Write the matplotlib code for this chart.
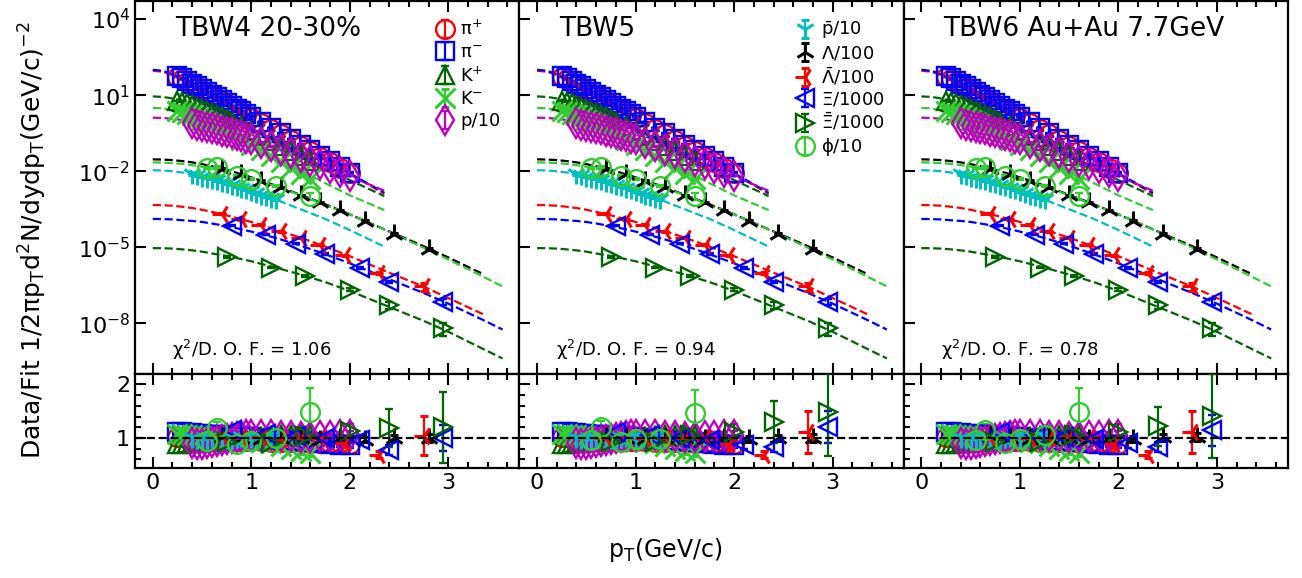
import numpy as np
import matplotlib
matplotlib.use('Agg')
import matplotlib.pyplot as plt
from matplotlib.ticker import FixedLocator, MultipleLocator, NullLocator, LogFormatterSciNotation

plt.rcParams['font.family'] = ['DejaVu Sans']
plt.rcParams['mathtext.default'] = 'regular'

# ---------------- data ----------------
panel_titles = ['TBW4 20-30%', 'TBW5', 'TBW6 Au+Au 7.7GeV']
chi2_values = ['1.06', '0.94', '0.78']

# fit curves sampled on a common pT grid (nan = curve not drawn there)
fit_pt = [0.0, 0.1, 0.2, 0.3, 0.4, 0.5, 0.6, 0.8, 1.0, 1.25, 1.5, 1.75, 2.0, 2.35, 2.75, 3.0, 3.35, 3.55]
nan = float('nan')
fit_pip = [92, 83.9, 62.2, 39.3, 24.2, 14.9, 8.99, 3.27, 1.21, 0.342, 0.0966, 0.0271, 0.00765, 0.0013, nan, nan, nan, nan]
fit_pim = [100, 91.2, 67.6, 42.7, 26.3, 16.2, 9.77, 3.55, 1.32, 0.372, 0.105, 0.0295, 0.00832, 0.00141, nan, nan, nan, nan]
fit_kp = [8.91, 8.51, 7.41, 6.03, 4.47, 3.16, 2.14, 0.933, 0.389, 0.126, 0.0407, 0.0135, 0.00447, 0.00105, nan, nan, nan, nan]
fit_km = [3.16, 3.02, 2.57, 2.04, 1.51, 1.05, 0.708, 0.288, 0.115, 0.0355, 0.0107, 3.39e-3, 1.12e-3, 2.95e-4, nan, nan, nan, nan]
fit_p = [1.29, 1.26, 1.17, 1.05, 0.871, 0.708, 0.55, 0.316, 0.174, 0.0794, 0.0355, 0.0155, 6.31e-3, 1.7e-3, nan, nan, nan, nan]
fit_pbar = [1.1e-2, 1.07e-2, 1.0e-2, 8.91e-3, 7.59e-3, 6.31e-3, 5.01e-3, 2.95e-3, 1.66e-3, 7.59e-4, 3.16e-4, 1.32e-4, 4.79e-5, 1.07e-5, nan, nan, nan, nan]
fit_lam = [2.95e-2, 2.88e-2, 2.75e-2, 2.51e-2, 2.24e-2, 1.91e-2, 1.58e-2, 1.0e-2, 5.75e-3, 2.69e-3, 1.17e-3, 5.01e-4, 2.0e-4, 5.13e-5, 1.1e-5, 3.98e-6, 8.91e-7, nan]
fit_alam = [4.68e-4, 4.57e-4, 4.37e-4, 3.98e-4, 3.55e-4, 3.02e-4, 2.51e-4, 1.62e-4, 1.0e-4, 5.01e-5, 2.4e-5, 1.07e-5, 4.47e-6, 1.2e-6, 2.82e-7, 1.0e-7, 2.34e-8, nan]
fit_xi = [1.32e-4, 1.3e-4, 1.26e-4, 1.17e-4, 1.1e-4, 1.0e-4, 8.71e-5, 6.31e-5, 4.17e-5, 2.34e-5, 1.17e-5, 5.37e-6, 2.34e-6, 6.61e-7, 1.58e-7, 6.03e-8, 1.38e-8, 5.75e-9]
fit_axi = [9.33e-6, 9.23e-6, 8.91e-6, 8.32e-6, 7.59e-6, 6.76e-6, 5.75e-6, 4.17e-6, 2.82e-6, 1.58e-6, 8.51e-7, 4.27e-7, 1.91e-7, 5.37e-8, 1.26e-8, 4.68e-9, 1.0e-9, 4.17e-10]
fit_phi = [2.24e-2, 2.19e-2, 2.09e-2, 1.95e-2, 1.74e-2, 1.51e-2, 1.26e-2, 8.32e-3, 5.01e-3, 2.51e-3, 1.12e-3, 4.68e-4, 2.0e-4, 5.01e-5, 9.55e-6, 3.31e-6, 7.08e-7, 2.88e-7]

# pions
pi_pt = [0.25, 0.30, 0.35, 0.40, 0.45, 0.50, 0.55, 0.60, 0.65, 0.70, 0.75, 0.80, 0.85, 0.90, 0.95, 1.00,
         1.10, 1.20, 1.30, 1.40, 1.50, 1.60, 1.70, 1.80, 1.90, 2.00]
pip_val = [52, 42, 33, 26, 20, 16, 12.4, 9.7, 7.5, 5.8, 4.5, 3.5, 2.7, 2.1, 1.65, 1.3,
           0.78, 0.47, 0.285, 0.171, 0.103, 0.0625, 0.0377, 0.0225, 0.0136, 0.0082]
pim_val = [57, 46, 36, 28, 22, 17.4, 13.5, 10.5, 8.1, 6.3, 4.9, 3.8, 2.95, 2.3, 1.8, 1.41,
           0.85, 0.51, 0.31, 0.186, 0.112, 0.068, 0.041, 0.0245, 0.0148, 0.0089]
pi_err = [0.02, 0.02, 0.02, 0.02, 0.02, 0.02, 0.02, 0.02, 0.02, 0.02, 0.02, 0.02, 0.02, 0.02, 0.02, 0.02,
          0.02, 0.02, 0.03, 0.03, 0.03, 0.04, 0.04, 0.05, 0.05, 0.06]
pip_ratio = [1.02, 1.01, 1.0, 1.0, 0.99, 0.99, 0.98, 0.98, 0.97, 0.97, 0.96, 0.96, 0.95, 0.95, 0.95, 0.94,
             0.94, 0.93, 0.93, 0.92, 0.92, 0.91, 0.91, 0.9, 0.9, 0.89]
pim_ratio = [1.12, 1.11, 1.10, 1.09, 1.08, 1.07, 1.06, 1.06, 1.05, 1.05, 1.04, 1.04, 1.03, 1.03, 1.02, 1.02,
             1.0, 0.99, 0.97, 0.96, 0.94, 0.92, 0.9, 0.88, 0.87, 0.86]

# kaons
k_pt = [0.25, 0.30, 0.35, 0.40, 0.45, 0.50, 0.55, 0.60, 0.65, 0.70, 0.75, 0.80, 0.90, 1.00,
        1.10, 1.20, 1.30, 1.40, 1.50, 1.60]
kp_val = [5.9, 5.3, 4.7, 4.0, 3.4, 2.9, 2.4, 2.0, 1.63, 1.34, 1.10, 0.90, 0.59, 0.389,
          0.248, 0.158, 0.100, 0.064, 0.0407, 0.0262]
km_val = [2.47, 2.2, 1.86, 1.59, 1.31, 1.08, 0.88, 0.708, 0.566, 0.447, 0.354, 0.280, 0.173, 0.109,
          0.0668, 0.0404, 0.0237, 0.0138, 0.0080, 0.00487]
k_err = [0.03, 0.03, 0.03, 0.03, 0.03, 0.03, 0.03, 0.03, 0.03, 0.03, 0.03, 0.03, 0.04, 0.04,
         0.04, 0.05, 0.05, 0.06, 0.06, 0.07]
kp_ratio = [0.88, 0.88, 0.9, 0.9, 0.9, 0.92, 0.92, 0.93, 0.94, 0.95, 0.96, 0.97, 0.98, 1.0,
            1.02, 1.04, 1.05, 1.06, 1.06, 1.05]
km_ratio = [1.08, 1.08, 1.06, 1.05, 1.04, 1.03, 1.02, 1.0, 1.0, 0.99, 0.98, 0.97, 0.95, 0.95,
            0.93, 0.9, 0.85, 0.8, 0.75, 0.72]

# protons
p_pt = [0.40, 0.45, 0.50, 0.55, 0.60, 0.65, 0.70, 0.75, 0.80, 0.85, 0.90, 0.95, 1.00,
        1.10, 1.20, 1.30, 1.40, 1.50, 1.60, 1.70, 1.80, 1.90, 2.00]
p_val = [0.78, 0.69, 0.62, 0.56, 0.505, 0.45, 0.40, 0.356, 0.316, 0.278, 0.244, 0.212, 0.184,
         0.135, 0.0975, 0.0703, 0.0505, 0.0362, 0.026, 0.0188, 0.0135, 0.00948, 0.00669]
p_err = [0.03, 0.03, 0.03, 0.03, 0.03, 0.03, 0.03, 0.03, 0.03, 0.03, 0.03, 0.03, 0.03,
         0.04, 0.04, 0.04, 0.04, 0.05, 0.05, 0.05, 0.06, 0.06, 0.07]
p_ratio = [0.9, 0.88, 0.88, 0.9, 0.92, 0.94, 0.96, 0.98, 1.0, 1.02, 1.04, 1.05, 1.06,
           1.06, 1.05, 1.04, 1.03, 1.02, 1.02, 1.03, 1.04, 1.05, 1.06]

pbar_pt = [0.40, 0.45, 0.50, 0.55, 0.60, 0.65, 0.70, 0.75, 0.80, 0.85, 0.90, 0.95, 1.00,
           1.05, 1.10, 1.15, 1.20, 1.25]
pbar_val = [7.6e-3, 6.8e-3, 6.1e-3, 5.5e-3, 5.0e-3, 4.4e-3, 3.85e-3, 3.34e-3, 2.9e-3, 2.56e-3,
            2.25e-3, 1.94e-3, 1.66e-3, 1.41e-3, 1.21e-3, 1.06e-3, 9.1e-4, 7.7e-4]
pbar_err = [0.04, 0.04, 0.04, 0.04, 0.04, 0.04, 0.04, 0.04, 0.05, 0.05, 0.05, 0.05, 0.05,
            0.06, 0.06, 0.06, 0.07, 0.07]
pbar_ratio = [1.0, 0.98, 0.97, 0.98, 1.0, 1.01, 1.0, 0.99, 0.98, 1.0, 1.02, 1.01, 1.0,
              0.99, 1.0, 1.02, 1.03, 1.02]

# strange hadrons
lam_pt = [0.7, 0.9, 1.1, 1.3, 1.5, 1.7, 1.9, 2.15, 2.45, 2.8]
lam_val = [1.26e-2, 7.6e-3, 4.25e-3, 2.29e-3, 1.17e-3, 5.9e-4, 2.88e-4, 1.12e-4, 3.47e-5, 8.9e-6]
lam_err = [0.03, 0.03, 0.03, 0.03, 0.03, 0.04, 0.04, 0.05, 0.06, 0.08]
lam_ratio_tbw4 = [1.02, 1.0, 0.98, 1.0, 1.0, 0.97, 1.0, 0.97, 1.0, 1.0]
lam_ratio_tbw5 = [1.02, 1.0, 0.99, 1.0, 1.0, 0.98, 1.0, 0.98, 1.0, 1.0]
lam_ratio_tbw6 = [1.03, 1.0, 0.99, 1.0, 1.0, 0.98, 1.0, 0.98, 1.01, 1.02]

alam_pt = [0.7, 0.9, 1.1, 1.3, 1.5, 1.7, 1.95, 2.3, 2.75]
alam_val = [2.12e-4, 1.27e-4, 7.7e-5, 4.24e-5, 2.4e-5, 1.26e-5, 4.8e-6, 1.0e-6, 2.9e-7]
alam_err = [0.04, 0.04, 0.04, 0.05, 0.05, 0.06, 0.08, 0.1, 0.35]
alam_ratio_tbw4 = [1.05, 1.0, 1.02, 0.98, 1.0, 1.0, 0.9, 0.69, 1.04]
alam_ratio_tbw5 = [1.0, 1.02, 1.0, 1.0, 1.0, 1.0, 0.88, 0.69, 1.12]
alam_ratio_tbw6 = [1.0, 1.0, 1.0, 1.0, 1.02, 1.0, 0.88, 0.69, 1.12]

xi_pt = [0.8, 1.15, 1.45, 1.75, 2.1, 2.4, 2.95]
xi_val = [7.2e-5, 3.16e-5, 1.39e-5, 5.37e-6, 1.58e-6, 4.3e-7, 7.3e-8]
xi_err = [0.05, 0.05, 0.06, 0.07, 0.09, 0.12, 0.25]
xi_ratio_tbw4 = [1.15, 1.07, 1.03, 1.0, 0.97, 0.78, 1.0]
xi_ratio_tbw5 = [1.12, 1.05, 1.0, 0.97, 0.87, 0.83, 1.2]
xi_ratio_tbw6 = [1.12, 1.05, 1.02, 0.98, 0.9, 0.83, 1.14]

axi_pt = [0.75, 1.2, 1.55, 2.0, 2.4, 2.95]
axi_val = [4.17e-6, 1.6e-6, 7.6e-7, 2.15e-7, 5.25e-8, 6.8e-9]
axi_err = [0.05, 0.06, 0.08, 0.12, 0.3, 0.55]
axi_ratio_tbw4 = [0.92, 0.9, 1.03, 1.13, 1.18, 1.2]
axi_ratio_tbw5 = [0.92, 0.92, 1.05, 1.12, 1.3, 1.49]
axi_ratio_tbw6 = [0.92, 0.92, 1.05, 1.12, 1.22, 1.41]

phi_pt = [0.55, 0.65, 0.85, 1.0, 1.25, 1.6]
phi_val = [1.35e-2, 1.45e-2, 6.6e-3, 4.9e-3, 2.6e-3, 1.05e-3]
phi_err = [0.08, 0.1, 0.08, 0.08, 0.1, 0.3]
phi_ratio_tbw4 = [0.95, 1.18, 0.88, 0.95, 1.0, 1.48]
phi_ratio_tbw5 = [0.96, 1.2, 0.92, 0.99, 0.99, 1.46]
phi_ratio_tbw6 = [0.96, 1.15, 0.9, 0.99, 1.05, 1.49]

labels = [r'$\pi^{+}$', r'$\pi^{-}$', r'K$^{+}$', r'K$^{-}$', 'p/10',
          r'$\bar{p}$/10', r'$\Lambda$/100', r'$\bar{\Lambda}$/100', r'$\Xi$/1000',
          r'$\bar{\Xi}$/1000', r'$\phi$/10']
colors = ['red', 'blue', 'darkgreen', 'limegreen', 'm', 'c', 'black', 'red', 'blue', 'darkgreen', 'limegreen']
markers = ['o', 's', '^', 'x', 'd', '1', '2', '3', '<', '>', 'o']

species = [
    (pi_pt, pip_val, pi_err, [pip_ratio] * 3, fit_pip),
    (pi_pt, pim_val, pi_err, [pim_ratio] * 3, fit_pim),
    (k_pt, kp_val, k_err, [kp_ratio] * 3, fit_kp),
    (k_pt, km_val, k_err, [km_ratio] * 3, fit_km),
    (p_pt, p_val, p_err, [p_ratio] * 3, fit_p),
    (pbar_pt, pbar_val, pbar_err, [pbar_ratio] * 3, fit_pbar),
    (lam_pt, lam_val, lam_err, [lam_ratio_tbw4, lam_ratio_tbw5, lam_ratio_tbw6], fit_lam),
    (alam_pt, alam_val, alam_err, [alam_ratio_tbw4, alam_ratio_tbw5, alam_ratio_tbw6], fit_alam),
    (xi_pt, xi_val, xi_err, [xi_ratio_tbw4, xi_ratio_tbw5, xi_ratio_tbw6], fit_xi),
    (axi_pt, axi_val, axi_err, [axi_ratio_tbw4, axi_ratio_tbw5, axi_ratio_tbw6], fit_axi),
    (phi_pt, phi_val, phi_err, [phi_ratio_tbw4, phi_ratio_tbw5, phi_ratio_tbw6], fit_phi),
]

# ---------------- figure ----------------
fig = plt.figure(figsize=(13.02, 5.78), dpi=100)
gs = fig.add_gridspec(2, 3, left=0.1037, right=0.9892, top=0.9985, bottom=0.1903,
                      height_ratios=[374, 94], wspace=0, hspace=0)

for i in range(3):
    axt = fig.add_subplot(gs[0, i])
    axr = fig.add_subplot(gs[1, i], sharex=axt)
    handles = []
    # fits
    for j, sp in enumerate(species):
        axt.plot(fit_pt, sp[4], ls='--', color=colors[j], lw=1.6, zorder=1)
    # data
    for j, sp in enumerate(species):
        pt, val, err, ratios, _ = sp
        val = np.array(val)
        err = np.array(err)
        thin = markers[j] in ('x', '1', '2', '3')
        mew = 2.2 if thin else 1.7
        ms = 15 if thin else 13.5
        if markers[j] == 'd':
            ms = 15
        h = axt.errorbar(pt, val, yerr=val * err, fmt=markers[j], color=colors[j],
                         mfc='none', ms=ms, mew=mew, elinewidth=1.6, capsize=3,
                         capthick=1.6, label=labels[j], zorder=3)
        handles.append(h)
        r = np.array(ratios[i])
        axr.errorbar(pt, r, yerr=r * err, fmt=markers[j], color=colors[j],
                     mfc='none', ms=ms, mew=mew, elinewidth=1.6, capsize=3,
                     capthick=1.6, zorder=3)
    axr.axhline(1.0, color='black', ls='--', lw=1.6, zorder=4)

    axt.set_yscale('log')
    axt.set_ylim(1e-10, 5.2e4)
    axt.set_xlim(-0.18, 3.72)
    axt.yaxis.set_major_locator(FixedLocator([1e-8, 1e-5, 1e-2, 1e1, 1e4]))
    axt.yaxis.set_minor_locator(NullLocator())
    axt.yaxis.set_major_formatter(LogFormatterSciNotation())
    axr.set_ylim(0.44, 2.19)
    axr.yaxis.set_major_locator(FixedLocator([1, 2]))
    axr.yaxis.set_minor_locator(MultipleLocator(0.2))
    axr.xaxis.set_major_locator(MultipleLocator(1))
    axr.xaxis.set_minor_locator(MultipleLocator(0.2))

    for ax in (axt, axr):
        ax.tick_params(which='both', direction='in', top=True, bottom=True, left=True,
                       right=False, labelsize=16, width=1.5)
        ax.tick_params(which='major', length=8)
        ax.tick_params(which='minor', length=4)
        for s in ax.spines.values():
            s.set_linewidth(1.6)
    axt.tick_params(labelbottom=False)
    if i > 0:
        axt.tick_params(labelleft=False)
        axr.tick_params(labelleft=False)

    axt.text(0.104, 0.925, panel_titles[i], transform=axt.transAxes, fontsize=19,
             ha='left', va='center')
    axt.text(0.096, 0.064, r'$\chi^2$/D. O. F. = ' + chi2_values[i],
             transform=axt.transAxes, fontsize=13, ha='left', va='center')

    leg_kw = dict(loc='upper right', frameon=False, fontsize=13, handlelength=1.0,
                  handletextpad=0.35, borderaxespad=0.85, borderpad=0.2)
    if i == 0:
        axt.legend(handles=handles[:5], labelspacing=0.25, **leg_kw)
    elif i == 1:
        axt.legend(handles=handles[5:], labelspacing=0.17, **leg_kw)

fig.text(0.025, 0.585, r'Data/Fit 1/2$\pi$p$_T$d$^2$N/dydp$_T$(GeV/c)$^{-2}$',
         rotation=90, ha='center', va='center', fontsize=18)
fig.text(0.511, 0.048, r'p$_T$(GeV/c)', ha='center', va='center', fontsize=17)

fig.savefig('out.png', dpi=100)
